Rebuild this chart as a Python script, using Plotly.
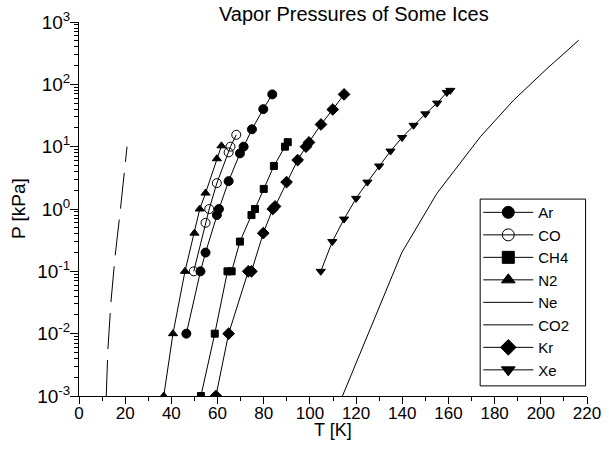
import plotly.graph_objects as go

# ---- data ----
ar_T = [46.5, 52.6, 54.8, 59.7, 60.6, 64.8, 69.7, 71.3, 74.9, 79.8, 83.7]
ar_P = [0.01, 0.1, 0.2, 0.8, 1.0, 2.8, 7.8, 10, 19, 40, 69]

co_T = [49.7, 54.8, 56.4, 59.7, 64.8, 65.6, 68.1]
co_P = [0.1, 0.6, 1.0, 2.6, 8.1, 10, 15.5]

ch4_T = [52.8, 58.8, 64.3, 66.1, 69.7, 74.7, 76.2, 80.0, 84.4, 89.2, 90.4]
ch4_P = [0.001, 0.01, 0.1, 0.1, 0.3, 0.8, 1.0, 2.1, 4.9, 10, 11.8]

n2_T = [36.7, 40.7, 45.9, 50.0, 52.3, 54.8, 59.7, 61.7]
n2_P = [0.001, 0.01, 0.1, 0.41, 1.0, 1.8, 6.4, 10.3]

ne_T = [11.8, 12.5, 13.8, 15.6, 17.9, 20.8]
ne_P = [0.001, 0.0055, 0.031, 0.17, 0.96, 10]

co2_T = [114.1, 139.8, 155.0, 173.8, 188.2, 202.7, 216.4]
co2_P = [0.001, 0.2, 1.78, 14.4, 55.6, 179, 509]

kr_T = [59.3, 64.8, 73.3, 74.7, 79.8, 83.9, 84.9, 89.9, 94.7, 98.3, 99.6, 104.8, 109.9, 114.8]
kr_P = [0.001, 0.01, 0.1, 0.1, 0.41, 1.0, 1.1, 2.7, 6.1, 10, 11.7, 22.7, 39.5, 69]

xe_T = [104.7, 109.7, 114.8, 120.0, 124.9, 130.0, 134.9, 139.9, 144.9, 150.0, 155.1, 159.3, 160.8]
xe_P = [0.1, 0.3, 0.69, 1.48, 2.7, 4.9, 8.5, 14, 22, 33.6, 50, 74, 80]

y_tickvals = [1e-3, 1e-2, 1e-1, 1, 10, 100, 1000]
y_ticktext = ["10<sup>-3</sup>", "10<sup>-2</sup>", "10<sup>-1</sup>", "10<sup>0</sup>",
              "10<sup>1</sup>", "10<sup>2</sup>", "10<sup>3</sup>"]

FONT = "Liberation Sans, Arial, sans-serif"

# (name, T, P, symbol, plot marker size, dash)
series = [
    ("Ar", ar_T, ar_P, "circle", 9, "solid"),
    ("CO", co_T, co_P, "circle-open", 9, "solid"),
    ("CH4", ch4_T, ch4_P, "square", 7, "solid"),
    ("N2", n2_T, n2_P, "triangle-up", 8, "solid"),
    ("Ne", ne_T, ne_P, None, 0, "36px,11px"),
    ("CO2", co2_T, co2_P, None, 0, "solid"),
    ("Kr", kr_T, kr_P, "diamond", 9, "solid"),
    ("Xe", xe_T, xe_P, "triangle-down", 8, "solid"),
]

fig = go.Figure()

# data traces
for name, T, P, sym, size, dash in series:
    if sym is None:
        fig.add_trace(go.Scatter(x=T, y=P, name=name, mode="lines", showlegend=False,
                                 line=dict(color="black", width=1, dash=dash)))
    else:
        fig.add_trace(go.Scatter(x=T, y=P, name=name, mode="lines+markers", showlegend=False,
                                 line=dict(color="black", width=1, dash=dash),
                                 marker=dict(symbol=sym, size=size, color="black",
                                             line=dict(color="black", width=1))))

# legend entries (solid lines, larger symbols as in the reference legend)
for name, T, P, sym, size, dash in series:
    if sym is None:
        fig.add_trace(go.Scatter(x=[None], y=[None], name=name, mode="lines",
                                 line=dict(color="black", width=1)))
    else:
        fig.add_trace(go.Scatter(x=[None], y=[None], name=name, mode="lines+markers",
                                 line=dict(color="black", width=1),
                                 marker=dict(symbol=sym, size=12, color="black",
                                             line=dict(color="black", width=1))))

fig.update_layout(
    width=609, height=451,
    margin=dict(l=79, r=22, t=22, b=55),
    paper_bgcolor="white", plot_bgcolor="white",
    font=dict(family=FONT, color="black", size=17),
    title=dict(text="Vapor Pressures of Some Ices", x=0.581, xanchor="center",
               xref="container", y=0.970, yanchor="middle",
               font=dict(size=20, family=FONT, color="black")),
    showlegend=True,
    legend=dict(x=0.786, y=0.5345, xanchor="left", yanchor="top",
                borderwidth=0, bgcolor="rgba(0,0,0,0)",
                itemwidth=50,
                font=dict(size=15, family=FONT, color="black")),
    shapes=[
        dict(type="rect", xref="paper", yref="paper",
             x0=0.7897, x1=0.9972, y0=0.027, y1=0.5265,
             line=dict(color="black", width=1), fillcolor="white", layer="above"),
    ],
    annotations=[
        dict(text="T [K]", xref="paper", yref="paper", x=0.5, y=-0.0905,
             xanchor="center", yanchor="middle", showarrow=False,
             font=dict(size=18, family=FONT, color="black")),
        dict(text="P [kPa]", xref="paper", yref="paper", x=-0.12, y=0.5,
             xanchor="center", yanchor="middle", showarrow=False, textangle=-90,
             font=dict(size=19, family=FONT, color="black")),
    ],
)

fig.update_xaxes(
    range=[0, 220], dtick=20, tick0=0, automargin=False,
    showline=True, linecolor="black", linewidth=1, mirror=False,
    showgrid=False, zeroline=False,
    ticks="outside", ticklen=7, tickcolor="black", tickwidth=1,
    minor=dict(ticks="outside", ticklen=4, dtick=10, tickcolor="black", showgrid=False),
    tickfont=dict(size=17, family=FONT),
    ticklabelstandoff=-5,
)
fig.update_yaxes(
    type="log", range=[-3, 3], automargin=False,
    tickvals=y_tickvals, ticktext=y_ticktext,
    showline=True, linecolor="black", linewidth=1, mirror=False,
    showgrid=False, zeroline=False,
    ticks="outside", ticklen=8, tickcolor="black", tickwidth=1,
    minor=dict(ticks="outside", ticklen=4, dtick="D1", tickcolor="black", showgrid=False),
    tickfont=dict(size=19, family=FONT),
    ticklabelstandoff=-4,
)

fig.write_html("out.html")
